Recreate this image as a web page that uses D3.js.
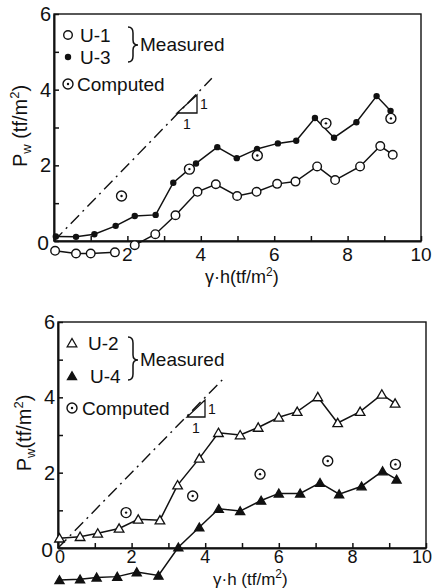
<!DOCTYPE html>
<html><head><meta charset="utf-8">
<script src="https://cdn.jsdelivr.net/npm/d3@7"></script>
<style>
body{margin:0;background:#fff}
svg{display:block}
text{font-family:"Liberation Sans",Arial,sans-serif;fill:#111}
</style>
</head><body><svg id="c" width="434" height="588"></svg>
<script>
// ---------- data ----------
const xTopTickLabels = [2, 4, 6, 8, 10];
const xBotTickLabels = [0, 2, 4, 6, 8, 10];
const yTickLabels = [0, 2, 4, 6];

// top panel
const u1X = [0.03, 0.6, 1.0, 1.66, 2.2, 2.76, 3.31, 3.91, 4.41, 4.99, 5.52, 6.08, 6.58, 7.17, 7.66, 8.34, 8.89, 9.23];
const u1Y = [-0.26, -0.33, -0.33, -0.30, -0.11, 0.18, 0.68, 1.30, 1.50, 1.19, 1.30, 1.51, 1.57, 1.97, 1.61, 1.97, 2.51, 2.28];
const u1Break = 4; // line is interrupted before this point
const u3X = [0.05, 0.6, 1.1, 1.68, 2.2, 2.77, 3.25, 3.87, 4.45, 4.98, 5.53, 6.1, 6.6, 7.11, 7.63, 8.24, 8.79, 9.17];
const u3Y = [0.12, 0.11, 0.18, 0.40, 0.66, 0.69, 1.54, 2.05, 2.48, 2.19, 2.43, 2.58, 2.65, 3.25, 2.73, 3.14, 3.83, 3.44];
const compTopX = [1.84, 3.69, 5.54, 7.41, 9.18];
const compTopY = [1.19, 1.90, 2.26, 3.11, 3.24];
const refTopEnd = 4.3;

// bottom panel
const u2X = [0.04, 0.6, 1.08, 1.66, 2.18, 2.77, 3.25, 3.84, 4.36, 4.95, 5.44, 6.0, 6.5, 7.06, 7.6, 8.21, 8.8, 9.16];
const u2Y = [0.26, 0.30, 0.39, 0.52, 0.76, 0.74, 1.67, 2.38, 3.06, 3.0, 3.20, 3.47, 3.62, 4.01, 3.32, 3.62, 4.08, 3.84];
const u4X = [0.04, 0.6, 1.05, 1.61, 2.14, 2.73, 3.27, 3.84, 4.37, 4.95, 5.52, 6.0, 6.58, 7.12, 7.64, 8.25, 8.82, 9.2];
const u4Y = [-0.85, -0.83, -0.78, -0.76, -0.64, -0.73, 0.02, 0.55, 1.04, 0.98, 1.26, 1.45, 1.45, 1.73, 1.43, 1.64, 2.04, 1.82];
const compBotX = [1.85, 3.66, 5.49, 7.33, 9.17];
const compBotY = [0.94, 1.38, 1.96, 2.31, 2.22];
const refBotEnd = 4.55;

// ---------- drawing ----------
const svg = d3.select("#c");
const ink = "#111";
const zip = (xs, ys) => xs.map((x, i) => [x, ys[i]]);

function panel(cfg) {
  const x = d3.scaleLinear().domain([0, 10]).range([cfg.left, cfg.right]);
  const y = d3.scaleLinear().domain([0, 6]).range([cfg.bottom, cfg.top]);
  const g = svg.append("g");

  g.append("rect").attr("x", cfg.left).attr("y", cfg.top)
    .attr("width", cfg.right - cfg.left).attr("height", cfg.bottom - cfg.top)
    .attr("fill", "none").attr("stroke", ink).attr("stroke-width", 1.4);

  const ax = g.append("g").attr("transform", `translate(0,${cfg.bottom})`)
    .call(d3.axisBottom(x).tickValues(d3.range(0, 11)).tickSize(-5).tickSizeOuter(0).tickFormat(""));
  const ay = g.append("g").attr("transform", `translate(${cfg.left},0)`)
    .call(d3.axisLeft(y).tickValues(d3.range(0, 7)).tickSize(-5).tickSizeOuter(0).tickFormat(""));
  [ax, ay].forEach(a => {
    a.select(".domain").attr("stroke", ink).attr("stroke-width", 2);
    a.selectAll(".tick line").attr("stroke", ink).attr("stroke-width", 1.5);
  });

  g.selectAll(".xl").data(cfg.xLabels).join("text")
    .attr("x", d => d === 10 ? Math.min(x(d), cfg.lastLabelX) : x(d) + (d === 0 ? 2 : 0))
    .attr("y", cfg.bottom + cfg.xLabelDy)
    .attr("text-anchor", "middle").attr("font-size", cfg.xLabelSize).text(d => d);
  g.selectAll(".yl").data(yTickLabels).join("text")
    .attr("x", d => cfg.left - (d === 0 ? 5 : 3)).attr("y", d => y(d) + 7 + (d === 0 ? 2 : 0))
    .attr("text-anchor", "end").attr("font-size", d => d === 0 ? 21 : 20).text(d => d);

  const xt = g.append("text").attr("x", cfg.xTitleX).attr("y", cfg.xTitleY)
    .attr("font-size", cfg.xTitleSize);
  xt.append("tspan").text(cfg.xTitlePre);
  xt.append("tspan").text("2").attr("font-size", 12).attr("dy", -7);
  xt.append("tspan").text(")").attr("dy", 7);

  const yt = g.append("text")
    .attr("transform", `translate(${cfg.yTitleX},${cfg.yTitleY}) rotate(-90)`)
    .attr("text-anchor", "middle").attr("font-size", 20);
  yt.append("tspan").text("P");
  yt.append("tspan").text("w").attr("font-size", 13).attr("dy", 4);
  yt.append("tspan").text(cfg.yTitleSep + "(tf/m").attr("dy", -4);
  yt.append("tspan").text("2").attr("font-size", 13).attr("dy", -8);
  yt.append("tspan").text(")").attr("dy", 8);

  g.append("line")
    .attr("x1", x(0)).attr("y1", y(0)).attr("x2", x(cfg.refEnd)).attr("y2", y(cfg.refEnd))
    .attr("stroke", ink).attr("stroke-width", 1.4).attr("stroke-dasharray", "12,5,2,5");

  const s = cfg.slope;
  g.append("path")
    .attr("d", `M${s.x},${s.y} L${s.x + s.w},${s.y} L${s.x + s.w},${s.y - s.h} Z`)
    .attr("fill", "none").attr("stroke", ink).attr("stroke-width", 1.3);
  g.append("text").attr("x", s.x + s.w + 3).attr("y", s.y - s.h / 2 + 5).attr("font-size", 14).text("1");
  g.append("text").attr("x", s.x + s.w / 2 - 4).attr("y", s.y + 16).attr("font-size", 14).text("1");

  const L = cfg.legend;
  g.append("path")
    .attr("d", `M${L.bx},${L.bTop} Q${L.bx + 5},${L.bTop} ${L.bx + 5},${L.bTop + 6} L${L.bx + 5},${L.bMid - 5} Q${L.bx + 5},${L.bMid} ${L.bx + 10},${L.bMid} Q${L.bx + 5},${L.bMid} ${L.bx + 5},${L.bMid + 5} L${L.bx + 5},${L.bBot - 6} Q${L.bx + 5},${L.bBot} ${L.bx},${L.bBot}`)
    .attr("fill", "none").attr("stroke", ink).attr("stroke-width", 1.5);
  g.append("text").attr("x", L.bx + 12).attr("y", L.bMid + 6).attr("font-size", 19).text("Measured");
  L.rows.forEach(r => {
    drawSymbol(g, r.kind, L.symX, r.y);
    g.append("text").attr("x", r.tx).attr("y", r.y + 7).attr("font-size", 19).text(r.label);
  });

  return {g, x, y};
}

function drawSymbol(g, kind, cx, cy) {
  if (kind === "open") {
    g.append("circle").attr("cx", cx).attr("cy", cy).attr("r", 4.3)
      .attr("fill", "#fff").attr("stroke", ink).attr("stroke-width", 1.4);
  } else if (kind === "filled") {
    g.append("circle").attr("cx", cx).attr("cy", cy).attr("r", 3.2).attr("fill", ink);
  } else if (kind === "comp") {
    g.append("circle").attr("cx", cx).attr("cy", cy).attr("r", 5)
      .attr("fill", "#fff").attr("stroke", ink).attr("stroke-width", 1.4);
    g.append("circle").attr("cx", cx).attr("cy", cy).attr("r", 1.2).attr("fill", ink);
  } else if (kind === "tri" || kind === "trifill") {
    const t = d3.symbol().type(d3.symbolTriangle).size(kind === "tri" ? 40 : 36);
    g.append("path").attr("d", t()).attr("transform", `translate(${cx},${cy + 1})`)
      .attr("fill", kind === "tri" ? "#fff" : ink).attr("stroke", ink).attr("stroke-width", 1.3);
  }
}

function series(p, xs, ys, kind, breakAt) {
  const pts = zip(xs, ys);
  const line = d3.line().x(d => p.x(d[0])).y(d => p.y(d[1]));
  const segs = breakAt ? [pts.slice(0, breakAt), pts.slice(breakAt)] : [pts];
  segs.forEach(sg => p.g.append("path").attr("d", line(sg))
    .attr("fill", "none").attr("stroke", ink).attr("stroke-width", 1.5));
  pts.forEach(d => drawSymbol(p.g, kind, p.x(d[0]), p.y(d[1])));
}

function points(p, xs, ys, kind) {
  zip(xs, ys).forEach(d => drawSymbol(p.g, kind, p.x(d[0]), p.y(d[1])));
}

const topPanel = panel({
  left: 54, right: 421, top: 14, bottom: 241,
  xLabels: xTopTickLabels, xLabelDy: 20, xLabelSize: 19, lastLabelX: 421,
  xTitleX: 205, xTitleY: 283, xTitleSize: 18, xTitlePre: "γ·h(tf/m",
  yTitleX: 27, yTitleY: 126, yTitleSep: " ",
  refEnd: refTopEnd,
  slope: {x: 177, y: 113, w: 20, h: 18},
  legend: {bx: 128, bTop: 27, bMid: 45, bBot: 62, symX: 68,
    rows: [{kind: "open", y: 35, tx: 80, label: "U-1"},
           {kind: "filled", y: 57, tx: 80, label: "U-3"},
           {kind: "comp", y: 84, tx: 77, label: "Computed"}]}
});
series(topPanel, u3X, u3Y, "filled");
series(topPanel, u1X, u1Y, "open", u1Break);
points(topPanel, compTopX, compTopY, "comp");

const botPanel = panel({
  left: 58, right: 426, top: 322, bottom: 548,
  xLabels: xBotTickLabels, xLabelDy: 15, xLabelSize: 18, lastLabelX: 422,
  xTitleX: 213, xTitleY: 585, xTitleSize: 17, xTitlePre: "γ·h (tf/m",
  yTitleX: 31, yTitleY: 433, yTitleSep: "",
  refEnd: refBotEnd,
  slope: {x: 187, y: 417, w: 18, h: 17},
  legend: {bx: 128, bTop: 337, bMid: 360, bBot: 380, symX: 72,
    rows: [{kind: "tri", y: 343, tx: 88, label: "U-2"},
           {kind: "trifill", y: 376, tx: 90, label: "U-4"},
           {kind: "comp", y: 408, tx: 82, label: "Computed"}]}
});
series(botPanel, u2X, u2Y, "tri");
series(botPanel, u4X, u4Y, "trifill");
points(botPanel, compBotX, compBotY, "comp");
</script>
</body></html>
